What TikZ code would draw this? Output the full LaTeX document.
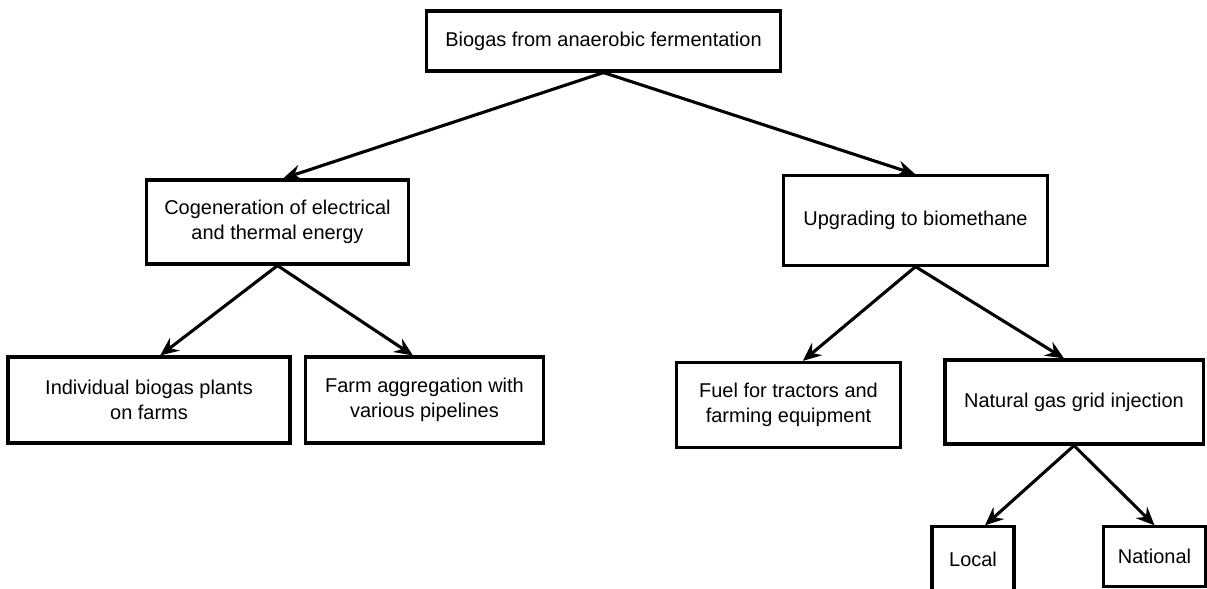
\documentclass[tikz,border=0pt]{standalone}
\usepackage{fontspec}
\setmainfont{Liberation Sans}
\usetikzlibrary{arrows.meta}

\begin{document}
\begin{tikzpicture}[
		x=0.025cm, y=-0.025cm,
		box/.style={rectangle, draw, line width=2.2pt, align=center,
				font=\fontsize{14.2}{18}\selectfont, inner sep=2pt},
		arrow/.style={line width=2.2pt, -{Stealth[length=4.6mm, width=4mm, inset=1.6mm]}},
	]
	\useasboundingbox (0,0) rectangle (1207,588);

	% --- Nodes ---
	\node (biogas)   [box, minimum width=8.83cm, minimum height=1.5cm]  at (603.5, 41)   {Biogas from anaerobic fermentation};
	\node (cogen)    [box, minimum width=6.53cm, minimum height=2.1cm]  at (277.5, 222)  {Cogeneration of electrical\\and thermal energy};
	\node (upgrade)  [box, minimum width=6.58cm, minimum height=2.23cm] at (915.5, 220.5) {Upgrading to biomethane};
	\node (plants)   [box, minimum width=7.05cm, minimum height=2.15cm] at (149, 400)    {Individual biogas plants\\on farms};
	\node (farms)    [box, minimum width=5.93cm, minimum height=2.15cm] at (424.5, 400)  {Farm aggregation with\\various pipelines};
	\node (fuel)     [box, minimum width=5.58cm, minimum height=2.13cm] at (788.5, 405)  {Fuel for tractors and\\farming equipment};
	\node (grid)     [box, minimum width=6.45cm, minimum height=2.1cm]  at (1074, 402)   {Natural gas grid injection};
	\node (local)    [box, minimum width=2.05cm, minimum height=1.63cm] at (973, 559.5)  {Local};
	\node (national) [box, minimum width=2.53cm, minimum height=1.48cm] at (1154.5, 556.5) {National};

	% --- Connectors ---
	\draw [arrow] (biogas.south) -- ([xshift=0.14cm]cogen.north);
	\draw [arrow] (biogas.south) -- (upgrade.north);
	\draw [arrow] (cogen.south) -- ([xshift=0.28cm]plants.north);
	\draw [arrow] (cogen.south) -- ([xshift=-0.29cm]farms.north);
	\draw [arrow] (upgrade.south) -- ([xshift=0.36cm]fuel.north);
	\draw [arrow] (upgrade.south) -- ([xshift=-0.25cm]grid.north);
	\draw [arrow] (grid.south) -- ([xshift=0.3cm]local.north);
	\draw [arrow] (grid.south) -- (national.north);

\end{tikzpicture}
\end{document}
